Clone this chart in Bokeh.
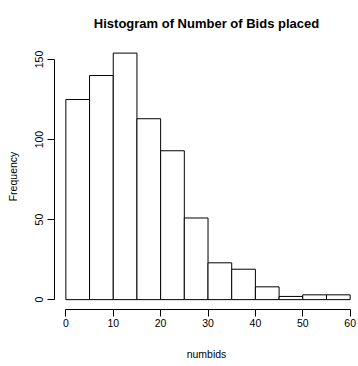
from bokeh.plotting import figure
from bokeh.models import FixedTicker, Range1d
from bokeh.embed import file_html
from bokeh.resources import INLINE

# Data
bin_edges = [0, 5, 10, 15, 20, 25, 30, 35, 40, 45, 50, 55, 60]
counts = [125, 140, 154, 113, 93, 51, 23, 19, 8, 2, 3, 3]
x_ticks = [0, 10, 20, 30, 40, 50, 60]
y_ticks = [0, 50, 100, 150]
title_text = "Histogram of Number of Bids placed"
x_label = "numbids"
y_label = "Frequency"

FONT = "Liberation Sans"

p = figure(width=358, height=366, output_backend="svg", toolbar_location=None,
           x_range=Range1d(-2.4, 61.76), y_range=Range1d(-6.16, 160.0),
           min_border_left=54, min_border_right=0, min_border_top=41, min_border_bottom=57,
           title=title_text)

p.quad(left=bin_edges[:-1], right=bin_edges[1:], bottom=0, top=counts,
       fill_color="white", line_color="black", line_width=1)

p.outline_line_color = None
p.xgrid.visible = False
p.ygrid.visible = False
p.background_fill_color = "white"
p.border_fill_color = "white"

p.title.align = "center"
p.title.text_font = FONT
p.title.text_font_size = "13px"
p.title.text_font_style = "bold"
p.title.text_color = "black"
p.title.standoff = 26

for ax in (p.xaxis[0], p.yaxis[0]):
    ax.axis_line_color = "black"
    ax.axis_line_width = 1
    ax.major_tick_line_color = "black"
    ax.major_tick_out = 7
    ax.major_tick_in = 0
    ax.minor_tick_line_color = None
    ax.major_label_text_font = FONT
    ax.major_label_text_font_size = "10.5px"
    ax.major_label_text_color = "black"
    ax.axis_label_text_font = FONT
    ax.axis_label_text_font_size = "10.5px"
    ax.axis_label_text_font_style = "normal"
    ax.axis_label_text_color = "black"

xa = p.xaxis[0]
xa.bounds = (0, 60)
xa.ticker = FixedTicker(ticks=x_ticks)
xa.axis_label = x_label
xa.major_label_standoff = 2
xa.axis_label_standoff = 18

ya = p.yaxis[0]
ya.bounds = (0, 150)
ya.ticker = FixedTicker(ticks=y_ticks)
ya.axis_label = y_label
ya.major_label_orientation = "vertical"
ya.major_label_standoff = 4
ya.axis_label_standoff = 14

open("out.html", "w").write(file_html(p, INLINE))
